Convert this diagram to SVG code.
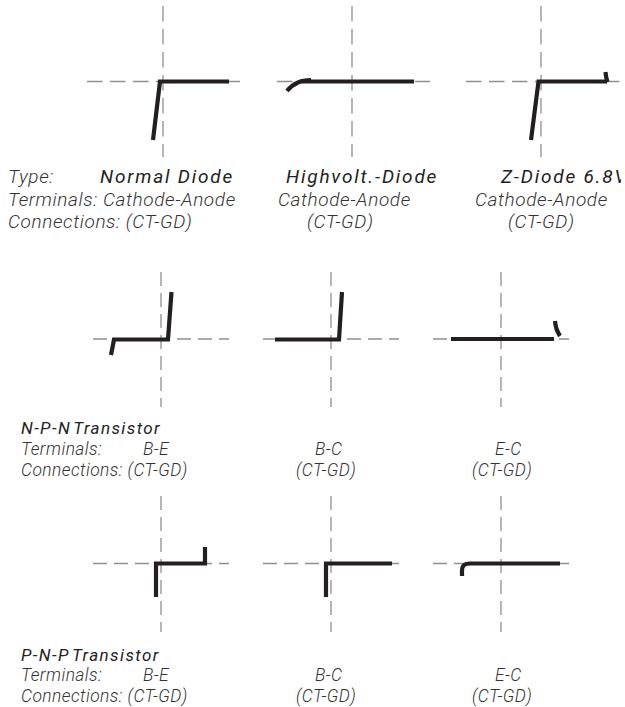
<svg xmlns="http://www.w3.org/2000/svg" width="625" height="707" viewBox="0 0 625 707">
<style>
.axis{fill:none;stroke:#8f8f8f;stroke-width:1.3;stroke-dasharray:15.5 7.5}
.axis2{fill:none;stroke:#8f8f8f;stroke-width:1.3;stroke-dasharray:14 7}
.curve{fill:none;stroke:#231f20;stroke-width:4.200;stroke-linejoin:miter;stroke-linecap:butt}
text{font-family:Roboto,"Liberation Sans",sans-serif;font-style:italic;font-weight:300;font-size:17.400px;fill:#333;letter-spacing:.45px}
.t{font-size:19px;letter-spacing:.6px}
.h{font-size:19px;letter-spacing:1.8px;fill:#222;font-weight:400}
.s{font-size:17px;letter-spacing:1.4px;word-spacing:-3px;fill:#222;font-weight:400}
</style>
<defs><clipPath id="page"><rect width="621" height="707"/></clipPath></defs>
<rect width="625" height="707" fill="#fff"/>
<g id="connectors">
<path class="axis" d="M163 6V157M352 6V157M541 6V157"/>
<path class="axis" d="M87 81.500H240M277 81.500H430M466 81.500H620"/>
<path class="axis2" d="M93 339H229M263 339H399M433 339H569"/>
<path class="axis2" d="M161 272V407M331 272V407M501 272V407"/>
<path class="axis2" d="M93 563.500H229M263 563.500H399M433 563.500H569"/>
<path class="axis2" d="M161 496V632M331 496V632M501 496V632"/>
</g>
<g id="normal-diode"><path class="curve" d="M153 140L160 81.500H229"/></g>
<g id="highvolt-diode"><path class="curve" d="M287 91Q292 85 298 82.500Q303 80 311 80"/><path class="curve" d="M300 81.500H414"/></g>
<g id="z-diode"><path class="curve" d="M531 140L538.500 81.500H607"/><path class="curve" d="M605.500 72Q606 78 607.500 82"/></g>
<g id="npn-be"><path class="curve" d="M111 355L114 339.500H168L171.500 292"/></g>
<g id="npn-bc"><path class="curve" d="M275 339.500H339L342 292"/></g>
<g id="npn-ec"><path class="curve" d="M451 339H554"/><path class="curve" d="M555 321Q555.500 329 560 336"/></g>
<g id="pnp-be"><path class="curve" d="M156 597V563.500H205V547"/></g>
<g id="pnp-bc"><path class="curve" d="M326 597V563.500H392"/></g>
<g id="pnp-ec"><path class="curve" d="M462 576V570Q462 563.500 470 563.500H560"/></g>
<g id="labels" clip-path="url(#page)">
<text class="t" x="8" y="183">Type:</text>
<text class="h" x="100" y="183">Normal Diode</text>
<text class="h" x="286" y="183">Highvolt.-Diode</text>
<text class="h" x="501" y="183">Z-Diode 6.8V</text>
<text class="t" x="8" y="206">Terminals: Cathode-Anode</text>
<text class="t" x="278" y="206">Cathode-Anode</text>
<text class="t" x="475" y="206">Cathode-Anode</text>
<text class="t" x="8" y="228">Connections: (CT-GD)</text>
<text class="t" x="307" y="228">(CT-GD)</text>
<text class="t" x="508" y="228">(CT-GD)</text>
<text class="s" x="21" y="434">N-P-N Transistor</text>
<text x="21" y="455">Terminals:</text><text x="143" y="455">B-E</text><text x="315" y="455">B-C</text><text x="495" y="455">E-C</text>
<text x="21" y="476">Connections: (CT-GD)</text><text x="296" y="476">(CT-GD)</text><text x="472" y="476">(CT-GD)</text>
<text class="s" x="21" y="661">P-N-P Transistor</text>
<text x="21" y="681">Terminals:</text><text x="143" y="681">B-E</text><text x="315" y="681">B-C</text><text x="495" y="681">E-C</text>
<text x="21" y="702">Connections: (CT-GD)</text><text x="296" y="702">(CT-GD)</text><text x="472" y="702">(CT-GD)</text>
</g>
</svg>
